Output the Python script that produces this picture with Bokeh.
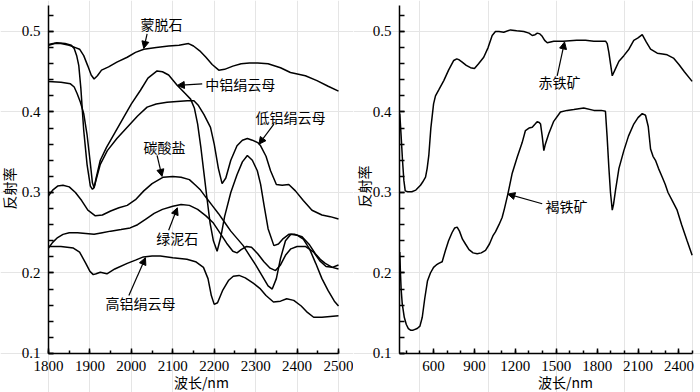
from bokeh.plotting import figure
from bokeh.layouts import row
from bokeh.models import Range1d, FixedTicker, Label, Arrow, NormalHead, LinearAxis
from bokeh.embed import file_html
from bokeh.resources import INLINE

# ---------------- left panel data (wavelength nm, reflectance) ----------------
mont_x = [1800,1815,1830,1850,1865,1875,1885,1895,1903,1910,1918,1928,1945,1965,1990,2010,2030,2060,2090,2115,2138,2150,2165,2180,2195,2211,2225,2245,2265,2285,2305,2330,2360,2384,2420,2448,2475,2500]
mont_y = [0.483,0.485,0.485,0.483,0.480,0.478,0.470,0.457,0.446,0.441,0.445,0.452,0.456,0.462,0.468,0.474,0.478,0.480,0.482,0.483,0.485,0.482,0.476,0.468,0.459,0.452,0.453,0.457,0.460,0.461,0.461,0.460,0.455,0.449,0.445,0.439,0.432,0.426]

mid_x = [1800,1830,1853,1862,1869,1877,1885,1893,1901,1906,1910,1915,1925,1940,1960,1982,2000,2022,2040,2062,2075,2090,2111,2130,2143,2152,2160,2168,2175,2182,2190,2198,2207,2216,2225,2240,2255,2268,2280,2292,2304,2312,2320,2330,2344,2355,2365,2380,2395,2412,2430,2444,2456,2468,2485,2500]
mid_y = [0.438,0.437,0.435,0.431,0.423,0.412,0.398,0.372,0.336,0.312,0.306,0.318,0.340,0.356,0.374,0.394,0.410,0.427,0.442,0.451,0.450,0.446,0.433,0.423,0.416,0.405,0.385,0.355,0.325,0.295,0.262,0.240,0.227,0.245,0.270,0.300,0.322,0.338,0.346,0.340,0.327,0.310,0.285,0.255,0.234,0.236,0.242,0.248,0.248,0.245,0.235,0.224,0.217,0.212,0.207,0.205]

low_x = [1800,1820,1840,1855,1862,1868,1873,1878,1885,1893,1901,1906,1910,1916,1925,1942,1965,1990,2015,2038,2060,2086,2110,2135,2151,2162,2175,2191,2200,2210,2219,2228,2240,2255,2268,2280,2292,2305,2312,2325,2336,2350,2364,2380,2396,2415,2436,2460,2480,2500]
low_y = [0.484,0.486,0.485,0.483,0.479,0.470,0.458,0.430,0.377,0.335,0.308,0.304,0.306,0.318,0.335,0.352,0.367,0.381,0.395,0.406,0.410,0.412,0.413,0.414,0.414,0.408,0.397,0.381,0.360,0.330,0.311,0.318,0.340,0.358,0.365,0.367,0.365,0.362,0.358,0.345,0.327,0.310,0.309,0.310,0.302,0.290,0.278,0.272,0.270,0.267]

carb_x = [1800,1810,1822,1835,1850,1865,1880,1895,1913,1930,1950,1970,1990,2010,2030,2050,2077,2100,2120,2140,2155,2167,2180,2195,2210,2225,2240,2255,2270,2285,2300,2315,2330,2340,2350,2360,2372,2385,2400,2415,2430,2445,2460,2475,2490,2500]
carb_y = [0.296,0.303,0.308,0.309,0.307,0.300,0.290,0.278,0.271,0.272,0.277,0.281,0.284,0.291,0.302,0.311,0.319,0.320,0.319,0.316,0.309,0.303,0.294,0.284,0.274,0.263,0.252,0.243,0.234,0.222,0.210,0.197,0.184,0.180,0.193,0.218,0.240,0.248,0.247,0.242,0.230,0.212,0.193,0.178,0.165,0.159]

chl_x = [1800,1810,1822,1835,1850,1870,1890,1910,1930,1950,1975,1997,2015,2035,2055,2075,2100,2120,2140,2160,2180,2198,2215,2230,2245,2255,2265,2278,2290,2305,2320,2335,2348,2360,2372,2385,2400,2420,2440,2455,2470,2485,2500]
chl_y = [0.231,0.238,0.244,0.248,0.250,0.250,0.249,0.248,0.250,0.252,0.254,0.256,0.260,0.267,0.274,0.279,0.283,0.285,0.284,0.279,0.271,0.262,0.249,0.237,0.227,0.225,0.229,0.233,0.232,0.224,0.214,0.206,0.203,0.210,0.222,0.230,0.233,0.233,0.226,0.215,0.208,0.207,0.210]

hal_x = [1800,1830,1860,1875,1890,1900,1908,1915,1925,1941,1960,1990,2010,2029,2050,2070,2100,2134,2155,2174,2185,2193,2200,2208,2220,2235,2246,2260,2275,2295,2310,2325,2343,2360,2375,2392,2410,2425,2440,2460,2480,2500]
hal_y = [0.233,0.233,0.231,0.226,0.212,0.202,0.198,0.199,0.201,0.199,0.205,0.212,0.216,0.220,0.221,0.221,0.219,0.217,0.214,0.207,0.193,0.172,0.161,0.163,0.178,0.191,0.196,0.197,0.194,0.187,0.181,0.172,0.164,0.165,0.168,0.166,0.159,0.151,0.145,0.145,0.146,0.147]

# ---------------- right panel data ----------------
hem_x = [352,362,372,382,392,410,440,470,504,520,541,553,565,580,600,614,640,675,710,748,770,785,810,840,871,900,930,968,1000,1030,1054,1080,1115,1164,1210,1262,1300,1324,1345,1361,1380,1397,1415,1434,1482,1550,1650,1715,1776,1830,1862,1874,1886,1898,1911,1930,1960,1996,2033,2069,2100,2131,2160,2192,2241,2280,2314,2360,2400,2440,2497]
hem_y = [0.398,0.370,0.340,0.315,0.302,0.301,0.301,0.303,0.309,0.313,0.319,0.330,0.346,0.380,0.410,0.420,0.428,0.439,0.452,0.464,0.466,0.465,0.462,0.458,0.455,0.454,0.460,0.468,0.480,0.495,0.500,0.500,0.499,0.502,0.501,0.500,0.498,0.495,0.496,0.498,0.497,0.494,0.489,0.486,0.488,0.488,0.489,0.489,0.488,0.488,0.488,0.485,0.474,0.460,0.445,0.452,0.463,0.470,0.478,0.489,0.492,0.496,0.487,0.478,0.473,0.472,0.471,0.467,0.459,0.450,0.438]

goe_x = [352,357,362,370,385,400,415,431,450,480,500,517,535,555,577,600,620,638,663,687,710,735,755,773,790,812,834,860,890,920,950,981,1010,1035,1054,1080,1103,1120,1145,1177,1214,1250,1274,1300,1324,1345,1360,1375,1385,1397,1409,1420,1445,1480,1531,1580,1629,1702,1776,1830,1861,1873,1886,1898,1911,1920,1935,1960,1996,2030,2069,2100,2131,2155,2175,2192,2210,2228,2250,2278,2300,2320,2351,2387,2420,2460,2497]
goe_y = [0.226,0.200,0.180,0.162,0.145,0.136,0.131,0.129,0.129,0.131,0.134,0.145,0.168,0.190,0.200,0.207,0.210,0.212,0.214,0.228,0.240,0.250,0.256,0.257,0.252,0.242,0.236,0.229,0.225,0.224,0.225,0.228,0.236,0.246,0.251,0.260,0.269,0.280,0.298,0.324,0.344,0.362,0.377,0.380,0.381,0.385,0.388,0.387,0.385,0.370,0.352,0.360,0.373,0.388,0.400,0.402,0.403,0.405,0.402,0.402,0.401,0.370,0.331,0.300,0.278,0.285,0.303,0.330,0.352,0.370,0.385,0.393,0.398,0.396,0.382,0.354,0.345,0.340,0.330,0.319,0.310,0.300,0.290,0.278,0.260,0.240,0.222]

# ---------------- text ----------------
left_names = ["蒙脱石", "中铝绢云母", "低铝绢云母", "碳酸盐", "绿泥石", "高铝绢云母"]
right_names = ["赤铁矿", "褐铁矿"]
y_title = "反射率"
x_title = "波长/nm"
left_xticks = [1800, 1900, 2000, 2100, 2200, 2300, 2400, 2500]
right_xticks = [600, 900, 1200, 1500, 1800, 2100, 2400]
yticks = [0.1, 0.2, 0.3, 0.4, 0.5]

# annotation placement: (label x, label y, arrow start x, y, arrow end x, y)
left_ann = [
    (2073, 0.509, 2038, 0.497, 2030, 0.479),
    (2263, 0.435, 2171, 0.435, 2111, 0.433),
    (2384, 0.394, 2344, 0.385, 2308, 0.360),
    (2080, 0.356, 2062, 0.346, 2074, 0.320),
    (2111, 0.243, 2090, 0.253, 2111, 0.281),
    (2022, 0.163, 1994, 0.172, 2034, 0.219),
]
right_ann = [
    (1524, 0.437, 1507, 0.445, 1561, 0.487),
    (1575, 0.283, 1397, 0.286, 1145, 0.298),
]

CJK = "Noto Sans CJK SC"
NUM = "Liberation Serif"
Y_VIEW = (0.05155, 0.5385)
Y_AXIS_SPAN = (0.1, 0.532)


def make(width, xview, xspan, xticks, xminor):
    p = figure(width=width, height=392, output_backend="svg", toolbar_location=None,
               x_range=Range1d(*xview), y_range=Range1d(*Y_VIEW),
               x_axis_location=None, y_axis_location=None,
               min_border_left=0, min_border_right=0, min_border_top=0, min_border_bottom=0)
    p.outline_line_color = None
    p.background_fill_color = "white"
    p.border_fill_color = "white"
    xa = LinearAxis(fixed_location=Y_AXIS_SPAN[0], bounds=xspan,
                    ticker=FixedTicker(ticks=xticks, minor_ticks=xminor))
    ya = LinearAxis(fixed_location=xspan[0], bounds=Y_AXIS_SPAN,
                    ticker=FixedTicker(ticks=yticks, minor_ticks=[round(0.1 + 0.02 * i, 2) for i in range(22)]))
    for ax in (xa, ya):
        ax.axis_line_width = 1.5
        ax.axis_line_color = "black"
        ax.major_tick_line_width = 1.5
        ax.minor_tick_line_width = 1.5
        ax.major_tick_line_color = "black"
        ax.minor_tick_line_color = "black"
        ax.major_tick_out = 0
        ax.minor_tick_out = 0
        ax.major_label_text_font = NUM
        ax.major_label_text_font_size = "15px"
        ax.major_label_text_color = "black"
        ax.major_label_standoff = 8
    xa.major_tick_in = 5
    xa.minor_tick_in = 3
    ya.major_tick_in = 5
    ya.minor_tick_in = 5
    p.add_layout(xa, "below")
    p.add_layout(ya, "left")
    return p


def annotate(p, names, anns):
    for name, (lx, ly, ax0, ay0, ax1, ay1) in zip(names, anns):
        p.add_layout(Label(x=lx, y=ly, text=name, text_align="center", text_baseline="middle",
                           text_font=CJK, text_font_size="14px", text_color="black"))
        p.add_layout(Arrow(x_start=ax0, y_start=ay0, x_end=ax1, y_end=ay1, line_width=1.2,
                           line_color="black",
                           end=NormalHead(size=7, fill_color="black", line_color="black", line_width=1)))


def titles(p, ypos, xpos):
    p.add_layout(Label(x=ypos[0], y=ypos[1], text=y_title, angle=1.5708, text_align="center",
                       text_baseline="middle", text_font=CJK, text_font_size="14px", text_color="black"))
    p.add_layout(Label(x=xpos[0], y=xpos[1], text=x_title, text_align="center", text_baseline="middle",
                       text_font=CJK, text_font_size="14px", text_color="black"))


# ---- left figure (page px 0..353) ----
pl = make(353, (1684.1, 2536.2), (1800, 2500), left_xticks, list(range(1800, 2501, 50)))
for xs, ys in [(mont_x, mont_y), (mid_x, mid_y), (low_x, low_y), (carb_x, carb_y), (chl_x, chl_y), (hal_x, hal_y)]:
    pl.line(xs, ys, line_color="black", line_width=1.5)
annotate(pl, left_names, left_ann)
titles(pl, (1705, 0.305), (2169, 0.064))

# ---- right figure (page px 353..700) ----
pr = make(347, (12.5, 2558.4), (350, 2500), right_xticks, list(range(400, 2501, 100)))
for xs, ys in [(hem_x, hem_y), (goe_x, goe_y)]:
    pr.line(xs, ys, line_color="black", line_width=1.5)
annotate(pr, right_names, right_ann)
titles(pr, (93, 0.3075), (1568, 0.064))

layout = row(pl, pr, spacing=0)
open("out.html", "w").write(file_html(layout, INLINE))
